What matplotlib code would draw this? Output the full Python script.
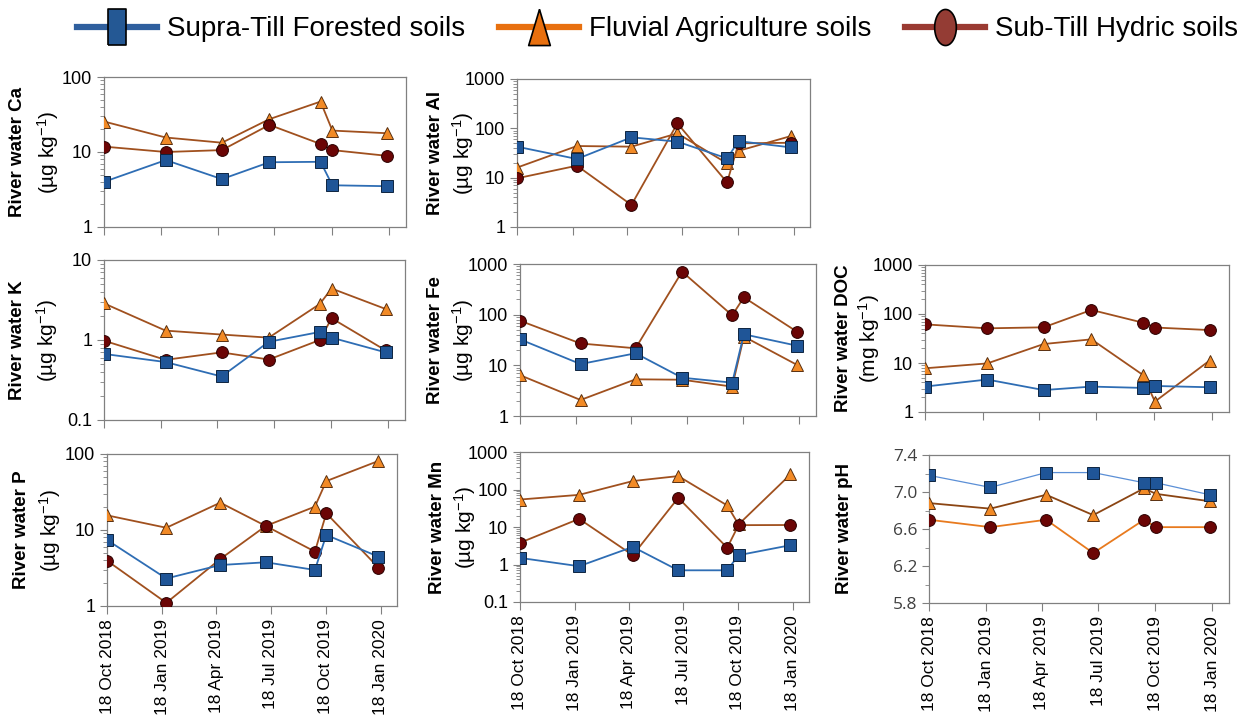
import numpy as np
import matplotlib.pyplot as plt
import matplotlib.dates as mdates
from matplotlib.ticker import FuncFormatter, NullFormatter, FixedLocator
from matplotlib.lines import Line2D

plt.rcParams['font.family'] = ['Liberation Sans', 'DejaVu Sans']
plt.rcParams['mathtext.fontset'] = 'custom'
plt.rcParams['mathtext.rm'] = 'Liberation Sans'
plt.rcParams['mathtext.it'] = 'Liberation Sans:italic'
plt.rcParams['mathtext.bf'] = 'Liberation Sans:bold'

# %% data
dates = np.array(['2018-10-18', '2019-01-25', '2019-04-25', '2019-07-10',
                  '2019-09-30', '2019-10-19', '2020-01-14'], dtype='datetime64[D]')
tick_dates = np.array(['2018-10-18', '2019-01-18', '2019-04-18', '2019-07-18',
                       '2019-10-18', '2020-01-18'], dtype='datetime64[D]')
x_end = np.datetime64('2020-02-14')

names = ["Supra-Till Forested soils", "Fluvial Agriculture soils", "Sub-Till Hydric soils"]

ca_forest = [4.0, 7.8, 4.35, 7.3, 7.4, 3.6, 3.5]
ca_fluvial = [25.5, 15.6, 13.3, 27.4, 47, 19.3, 17.8]
ca_hydric = [11.8, 10.0, 10.6, 23, 12.8, 10.6, 8.9]

al_forest = [42.5, 23.9, 65.7, 53.7, 24.6, 55, 41]
al_fluvial = [16, 43.8, 42.5, 79, 19.5, 35, 70]
al_hydric = [9.7, 17.5, 2.8, 126, 8.0, 49.6, 51]

k_forest = [0.67, 0.53, 0.35, 0.95, 1.26, 1.07, 0.70]
k_fluvial = [2.87, 1.31, 1.17, 1.07, 2.82, 4.4, 2.44]
k_hydric = [0.98, 0.565, 0.70, 0.57, 1.0, 1.87, 0.74]

fe_forest = [32.6, 10.6, 17.3, 5.7, 4.55, 41, 24.4]
fe_fluvial = [6.4, 2.07, 5.3, 5.2, 3.8, 37, 10.2]
fe_hydric = [76, 27, 21.7, 706, 97, 220, 46]

doc_forest = [3.3, 4.6, 2.8, 3.3, 3.1, 3.4, 3.2]
doc_fluvial = [7.8, 9.8, 24.4, 30.4, 5.7, 1.63, 11.2]
doc_hydric = [61.5, 51, 53.5, 121, 66.5, 53, 47]

p_forest = [7.4, 2.3, 3.46, 3.76, 2.98, 8.6, 4.46]
p_fluvial = [15.6, 10.7, 22.9, 11.3, 20.3, 44, 81]
p_hydric = [3.95, 1.1, 4.15, 11.3, 5.2, 16.6, 3.2]

mn_forest = [1.5, 0.9, 2.95, 0.70, 0.70, 1.77, 3.27]
mn_fluvial = [54, 72, 168, 228, 37.6, 11.7, 253]
mn_hydric = [3.8, 16.5, 1.77, 60, 2.8, 11.2, 11.3]

ph_forest = [7.18, 7.05, 7.21, 7.21, 7.10, 7.10, 6.97]
ph_fluvial = [6.88, 6.82, 6.97, 6.75, 7.04, 6.98, 6.90]
ph_hydric = [6.70, 6.62, 6.70, 6.34, 6.70, 6.62, 6.62]

ph_ticks = [5.8, 6.2, 6.6, 7.0, 7.4]
ph_minor = [6.0, 6.4, 6.8, 7.2]

# %% styles
BLUE_FILL = '#1f5597'
BLUE_LINE = '#2e6db4'
ORANGE_FILL = '#f28a26'
BROWN = '#a0501e'
RED_FILL = '#6b0505'
ORANGE_LINE = '#e87a1e'

W, H = 1252, 716
fig = plt.figure(figsize=(W / 100, H / 100), dpi=100)


def add_ax(l, t, r, b):
    return fig.add_axes([l / W, 1 - b / H, (r - l) / W, (b - t) / H])


def draw_panel(ax, forest, fluvial, hydric, ylim, bottom=False,
               hydric_line=BROWN, fluvial_line=BROWN, forest_line=BLUE_LINE,
               forest_lw=1.3):
    ax.plot(dates, fluvial, color=fluvial_line, lw=1.3, marker='^', ms=9,
            mfc=ORANGE_FILL, mec='#5a3010', mew=0.7, zorder=3)
    ax.plot(dates, hydric, color=hydric_line, lw=1.3, marker='o', ms=8.5,
            mfc=RED_FILL, mec='#2a0000', mew=0.7, zorder=4)
    ax.plot(dates, forest, color=forest_line, lw=forest_lw, marker='s', ms=8,
            mfc=BLUE_FILL, mec='#0d2440', mew=0.7, zorder=5)
    ax.set_xlim(dates[0], x_end)
    ax.set_ylim(*ylim)
    ax.set_xticks(tick_dates)
    ax.xaxis.set_major_formatter(mdates.DateFormatter('%d %b %Y'))
    ax.tick_params(axis='x', which='major', direction='out', length=6,
                   color='#808080', labelsize=12.5, labelbottom=bottom,
                   labelrotation=90)
    ax.tick_params(axis='y', which='major', direction='out', length=5,
                   color='#808080', labelsize=13)
    ax.tick_params(axis='y', which='minor', direction='out', length=3,
                   color='#808080')
    for sp in ax.spines.values():
        sp.set_color('#808080')
        sp.set_linewidth(0.9)


def log_axis(ax):
    ax.set_yscale('log')
    ax.yaxis.set_major_formatter(FuncFormatter(lambda v, pos: '%g' % v))
    ax.yaxis.set_minor_formatter(NullFormatter())


def ylabel(ax, line1, line2=None, off1=-84, off2=-57):
    ax.annotate(line1, xy=(0, 0.5), xycoords='axes fraction', xytext=(off1, 0),
                textcoords='offset pixels', rotation=90, ha='center', va='center',
                fontsize=13.5, fontweight='bold')
    if line2:
        ax.annotate(line2, xy=(0, 0.5), xycoords='axes fraction', xytext=(off2, 0),
                    textcoords='offset pixels', rotation=90, ha='center',
                    va='center', fontsize=15)


ug = r'(µg kg$^{-1}$)'

ax_ca = add_ax(104, 77, 406, 227)
log_axis(ax_ca)
draw_panel(ax_ca, ca_forest, ca_fluvial, ca_hydric, (1, 100))
ylabel(ax_ca, 'River water Ca', ug, -86, -56)

ax_al = add_ax(517, 79, 810, 227)
log_axis(ax_al)
draw_panel(ax_al, al_forest, al_fluvial, al_hydric, (1, 1000))
ylabel(ax_al, 'River water Al', ug, -82, -54)

ax_k = add_ax(104, 260, 405, 420)
log_axis(ax_k)
draw_panel(ax_k, k_forest, k_fluvial, k_hydric, (0.1, 10))
ylabel(ax_k, 'River water K', ug, -86, -57)

ax_fe = add_ax(520, 264, 816, 416)
log_axis(ax_fe)
draw_panel(ax_fe, fe_forest, fe_fluvial, fe_hydric, (1, 1000))
ylabel(ax_fe, 'River water Fe', ug, -85, -57)

ax_doc = add_ax(925, 265, 1229, 412)
log_axis(ax_doc)
draw_panel(ax_doc, doc_forest, doc_fluvial, doc_hydric, (1, 1000))
ylabel(ax_doc, 'River water DOC', r'(mg kg$^{-1}$)', -81, -56)

ax_p = add_ax(107, 454, 397, 606)
log_axis(ax_p)
draw_panel(ax_p, p_forest, p_fluvial, p_hydric, (1, 100), bottom=True)
ylabel(ax_p, 'River water P', ug, -85, -57)

ax_mn = add_ax(520, 452, 809, 602)
log_axis(ax_mn)
draw_panel(ax_mn, mn_forest, mn_fluvial, mn_hydric, (0.1, 1000), bottom=True)
ylabel(ax_mn, 'River water Mn', ug, -82, -55)

ax_ph = add_ax(929, 455, 1229, 603)
draw_panel(ax_ph, ph_forest, ph_fluvial, ph_hydric, (5.8, 7.4), bottom=True,
           hydric_line=ORANGE_LINE, fluvial_line='#8b4513',
           forest_line='#5b8fd6', forest_lw=0.9)
ax_ph.yaxis.set_major_locator(FixedLocator(ph_ticks))
ax_ph.yaxis.set_minor_locator(FixedLocator(ph_minor))
ax_ph.yaxis.set_major_formatter(FuncFormatter(lambda v, pos: '%.1f' % v))
ax_ph.tick_params(axis='y', labelcolor='#404040', labelsize=12.5)
for lab in ax_ph.get_yticklabels():
    lab.set_family(['Open Sans', 'DejaVu Sans'])
ylabel(ax_ph, 'River water pH', None, -84)

# %% legend (tall marker shapes as in the original)
t = np.linspace(0, 2 * np.pi, 40)
tall_square = [(-0.5, -1), (0.5, -1), (0.5, 1), (-0.5, 1), (-0.5, -1)]
tall_triangle = [(0, 1), (-0.6, -1), (0.6, -1), (0, 1)]
tall_ellipse = list(zip(0.6 * np.cos(t), np.sin(t)))

handles = [
    Line2D([], [], color='#2f5f9e', lw=4.5, marker=tall_square, ms=26,
           mfc='#245894', mec='black', mew=1.2),
    Line2D([], [], color='#e8700f', lw=4.5, marker=tall_triangle, ms=26,
           mfc='#e8700f', mec='black', mew=1.2),
    Line2D([], [], color='#9a3a32', lw=4.5, marker=tall_ellipse, ms=26,
           mfc='#943c34', mec='black', mew=1.2),
]
fig.legend(handles, names, loc='upper center', bbox_to_anchor=(0.525, 1.012),
           ncol=3, frameon=False, fontsize=20, handlelength=2.9,
           handletextpad=0.35, columnspacing=1.2)

fig.savefig('out.png', dpi=100)
